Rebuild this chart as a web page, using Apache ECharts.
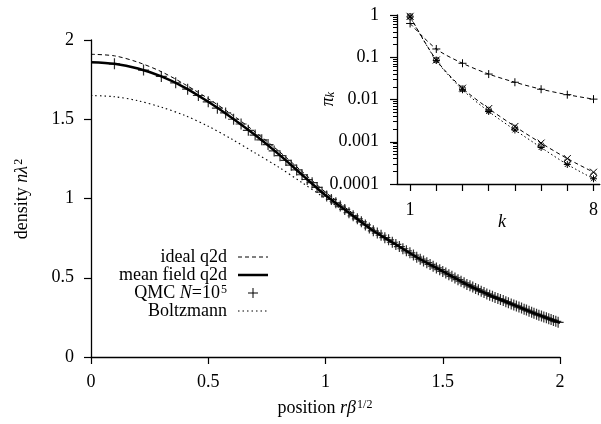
<!DOCTYPE html>
<html><head><meta charset="utf-8">
<script src="https://cdn.jsdelivr.net/npm/echarts@6/dist/echarts.min.js"></script>
<style>html,body{margin:0;padding:0;background:#fff}#c{width:601px;height:424px}</style>
</head><body><div id="c"></div>
<script>
// ---- main plot data ----
const positions = [0,0.1,0.2,0.3,0.4,0.5,0.6,0.7,0.8,0.9,1.0,1.1,1.2,1.3,1.4,1.5,1.6,1.7,1.8,1.9,2.0];
const idealQ2d = [1.91,1.90,1.86,1.80,1.72,1.63,1.53,1.42,1.30,1.17,1.04,0.925,0.815,0.715,0.625,0.545,0.465,0.395,0.333,0.273,0.218];
const meanFieldQ2d = [1.86,1.85,1.82,1.77,1.70,1.61,1.51,1.40,1.28,1.15,1.02,0.91,0.80,0.71,0.62,0.54,0.46,0.39,0.33,0.27,0.215];
const boltzmann = [1.65,1.642,1.617,1.576,1.524,1.456,1.375,1.287,1.198,1.10,1.00,0.90,0.80,0.71,0.62,0.54,0.46,0.39,0.33,0.27,0.22];
const qmcX = [0.100,0.224,0.300,0.361,0.412,0.458,0.500,0.539,0.574,0.608,0.640,0.671,0.700,0.728,0.755,0.781,0.806,0.831,0.854,0.877,0.900,0.922,0.943,0.964,0.985,1.005,1.025,1.044,1.063,1.082,1.100,1.118,1.136,1.153,1.170,1.187,1.204,1.221,1.237,1.253,1.269,1.285,1.300,1.315,1.330,1.345,1.360,1.375,1.389,1.404,1.418,1.432,1.446,1.459,1.473,1.487,1.500,1.513,1.526,1.539,1.552,1.565,1.578,1.591,1.603,1.616,1.628,1.640,1.652,1.664,1.676,1.688,1.700,1.712,1.723,1.735,1.746,1.758,1.769,1.780,1.792,1.803,1.814,1.825,1.836,1.847,1.857,1.868,1.879,1.889,1.900,1.910,1.921,1.931,1.942,1.952,1.962,1.972,1.982,1.992];
const qmcY = [1.85,1.81,1.77,1.73,1.69,1.65,1.61,1.57,1.54,1.50,1.47,1.43,1.40,1.37,1.34,1.30,1.27,1.24,1.21,1.18,1.15,1.12,1.10,1.07,1.04,1.015,0.994,0.973,0.952,0.931,0.910,0.891,0.872,0.853,0.833,0.814,0.796,0.782,0.768,0.753,0.739,0.724,0.710,0.697,0.683,0.670,0.657,0.643,0.630,0.617,0.606,0.595,0.584,0.573,0.562,0.551,0.540,0.530,0.519,0.509,0.499,0.488,0.478,0.468,0.458,0.449,0.441,0.432,0.424,0.415,0.407,0.398,0.390,0.383,0.376,0.369,0.363,0.356,0.349,0.342,0.335,0.328,0.322,0.315,0.309,0.302,0.296,0.289,0.283,0.276,0.270,0.264,0.259,0.253,0.247,0.242,0.236,0.231,0.225,0.219];
const mainXTicks = [0,0.5,1,1.5,2];

// ---- inset data ----
const kValues = [1,2,3,4,5,6,7,8];
const piIdeal = [0.63,0.157,0.072,0.040,0.0256,0.0175,0.013,0.0102];
const piMeanField = [0.93,0.086,0.0185,0.0061,0.0023,0.00093,0.00040,0.00019];
const piQMC = [0.92,0.086,0.018,0.0056,0.0021,0.00082,0.00034,0.00016];
const piBoltzmann = [0.90,0.084,0.017,0.0052,0.0019,0.00073,0.00029,0.000133];
const insetXLabels = [1,8];
const insetYLabels = {'0':'1','-1':'0.1','-2':'0.01','-3':'0.001','-4':'0.0001'};
const insetMinorTicks = [0.0002,0.0003,0.0004,0.0005,0.0006,0.0007,0.0008,0.0009,
  0.002,0.003,0.004,0.005,0.006,0.007,0.008,0.009,
  0.02,0.03,0.04,0.05,0.06,0.07,0.08,0.09,
  0.2,0.3,0.4,0.5,0.6,0.7,0.8,0.9];

const FONT = 'Liberation Serif';
const FS = 18;
const zip = (a,b) => a.map((v,i)=>[v,b[i]]);

const PLUS = 'path://M5,0L5,10M0,5L10,5';
const CROSS = 'path://M0,0L10,10M10,0L0,10';
const STAR = 'path://M5,0L5,10M0,5L10,5M1.5,1.5L8.5,8.5M8.5,1.5L1.5,8.5';

const axisLine = {show:true, onZero:false, lineStyle:{color:'#000', width:1.3}};
const tick = {show:true, inside:false, length:7, lineStyle:{color:'#000', width:1.2}};
const lbl = {color:'#000', fontFamily:FONT, fontSize:FS};
const sup = {fontFamily:FONT, fontSize:12, verticalAlign:'top', padding:[0,0,4,1]};

const chart = echarts.init(document.getElementById('c'));
chart.setOption({
  animation:false,
  backgroundColor:'#fff',
  grid:[
    {left:91, top:40, right:41, bottom:67},
    {left:397, top:15, right:0, bottom:240}
  ],
  xAxis:[
    {gridIndex:0, type:'value', min:0, max:2, interval:0.5, axisLine, axisTick:tick,
     axisLabel:Object.assign({margin:16, customValues:mainXTicks}, lbl), splitLine:{show:false}},
    {gridIndex:1, type:'value', min:0.5, max:8.24, axisLine,
     axisTick:Object.assign({customValues:kValues}, tick),
     axisLabel:Object.assign({margin:17, customValues:insetXLabels}, lbl), splitLine:{show:false}}
  ],
  yAxis:[
    {gridIndex:0, type:'value', min:0, max:2, interval:0.5, axisLine, axisTick:tick,
     axisLabel:Object.assign({margin:17}, lbl), splitLine:{show:false}},
    {gridIndex:1, type:'log', position:'left', logBase:10, min:0.0001, max:1, axisLine, axisTick:tick,
     axisLabel:Object.assign({margin:18, formatter:v=>insetYLabels[String(Math.round(Math.log10(v)))]}, lbl),
     splitLine:{show:false}},
    {gridIndex:1, type:'value', position:'left', offset:0, min:-4, max:0, axisLine:{show:false},
     axisTick:{show:true, inside:false, length:4, customValues:insetMinorTicks.map(v=>Math.log10(v)), lineStyle:{color:'#000', width:1}},
     axisLabel:{show:false}, splitLine:{show:false}}
  ],
  series:[
    {name:'ideal q2d', type:'line', xAxisIndex:0, yAxisIndex:0, data:zip(positions, idealQ2d), smooth:0.3,
     showSymbol:false, lineStyle:{color:'#000', width:1, type:[4,3]}, z:2},
    {name:'Boltzmann', type:'line', xAxisIndex:0, yAxisIndex:0, data:zip(positions, boltzmann), smooth:0.3,
     showSymbol:false, lineStyle:{color:'#000', width:1.1, type:[1.5,3]}, z:2},
    {name:'QMC', type:'scatter', xAxisIndex:0, yAxisIndex:0, data:zip(qmcX, qmcY), symbol:PLUS, symbolSize:11,
     itemStyle:{color:'none', borderColor:'#1a1a1a', borderWidth:1.2, opacity:0.9}, z:3},
    {name:'mean field q2d', type:'line', xAxisIndex:0, yAxisIndex:0, data:zip(positions, meanFieldQ2d), smooth:0.3,
     showSymbol:false, lineStyle:{color:'#000', width:2.5}, z:4},

    {name:'pi QMC', type:'scatter', xAxisIndex:1, yAxisIndex:1, data:zip(kValues, piQMC), symbol:'circle', symbolSize:6,
     itemStyle:{color:'none', borderColor:'#000', borderWidth:0.9}, z:5},
    {name:'pi ideal', type:'line', xAxisIndex:1, yAxisIndex:1, data:zip(kValues, piIdeal), smooth:0.3,
     symbol:PLUS, symbolSize:8, showSymbol:true, itemStyle:{color:'none', borderColor:'#000', borderWidth:1},
     lineStyle:{color:'#000', width:1, type:[4,3]}, z:5},
    {name:'pi mean field', type:'line', xAxisIndex:1, yAxisIndex:1, data:zip(kValues, piMeanField), smooth:0.3,
     symbol:CROSS, symbolSize:7, showSymbol:true, itemStyle:{color:'none', borderColor:'#000', borderWidth:1},
     lineStyle:{color:'#000', width:1, type:[4,3]}, z:5},
    {name:'pi Boltzmann', type:'line', xAxisIndex:1, yAxisIndex:1, data:zip(kValues, piBoltzmann), smooth:0.3,
     symbol:STAR, symbolSize:7, showSymbol:true, itemStyle:{color:'none', borderColor:'#000', borderWidth:1},
     lineStyle:{color:'#000', width:1, type:[1.5,2.5]}, z:5}
  ],
  graphic:[
    {type:'text', x:22, y:199, rotation:Math.PI/2, style:{text:'density {i|n}{i|λ}{s|2}', fontFamily:FONT, fontSize:FS, fill:'#000', align:'center', verticalAlign:'middle',
      rich:{i:{fontFamily:FONT, fontSize:FS, fontStyle:'italic'}, s:sup}}},
    {type:'text', x:325, y:408, style:{text:'position {i|rβ}{s|1/2}', fontFamily:FONT, fontSize:FS, fill:'#000', align:'center', verticalAlign:'middle',
      rich:{i:{fontFamily:FONT, fontSize:FS, fontStyle:'italic'}, s:sup}}},
    {type:'text', x:502, y:222, style:{text:'k', fontFamily:FONT, fontSize:FS, fontStyle:'italic', fill:'#000', align:'center', verticalAlign:'middle'}},
    {type:'text', x:328, y:99, rotation:Math.PI/2, style:{text:'{i|π}{s|k}', fontFamily:FONT, fontSize:FS, fill:'#000', align:'center', verticalAlign:'middle',
      rich:{i:{fontFamily:FONT, fontSize:FS, fontStyle:'italic'}, s:{fontFamily:FONT, fontSize:12, fontStyle:'italic', verticalAlign:'bottom'}}}},
    // legend
    {type:'text', x:227, y:257, style:{text:'ideal q2d', fontFamily:FONT, fontSize:FS, fill:'#000', align:'right', verticalAlign:'middle'}},
    {type:'line', shape:{x1:238, y1:257, x2:268, y2:257}, style:{stroke:'#000', lineWidth:1, lineDash:[4,3]}},
    {type:'text', x:227, y:275, style:{text:'mean field q2d', fontFamily:FONT, fontSize:FS, fill:'#000', align:'right', verticalAlign:'middle'}},
    {type:'line', shape:{x1:238, y1:275, x2:268, y2:275}, style:{stroke:'#000', lineWidth:2.5}},
    {type:'text', x:227, y:293, style:{text:'QMC {i|N}=10{s|5}', fontFamily:FONT, fontSize:FS, fill:'#000', align:'right', verticalAlign:'middle',
      rich:{i:{fontFamily:FONT, fontSize:FS, fontStyle:'italic'}, s:sup}}},
    {type:'line', shape:{x1:253, y1:288, x2:253, y2:298}, style:{stroke:'#000', lineWidth:1}},
    {type:'line', shape:{x1:248, y1:293, x2:258, y2:293}, style:{stroke:'#000', lineWidth:1}},
    {type:'text', x:227, y:311, style:{text:'Boltzmann', fontFamily:FONT, fontSize:FS, fill:'#000', align:'right', verticalAlign:'middle'}},
    {type:'line', shape:{x1:238, y1:311, x2:268, y2:311}, style:{stroke:'#000', lineWidth:1, lineDash:[1.5,3]}}
  ]
});
</script>
</body></html>
